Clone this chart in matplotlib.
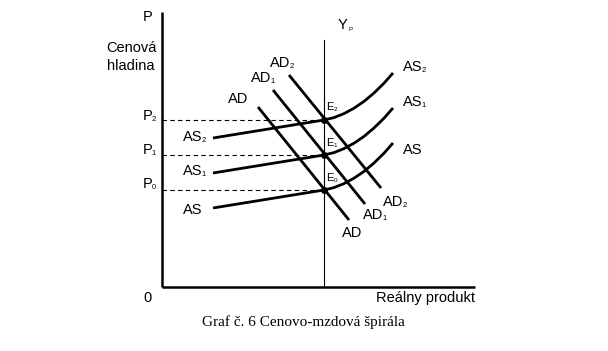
import matplotlib
matplotlib.use("Agg")
import matplotlib.pyplot as plt

plt.rcParams['font.family'] = ['Liberation Sans', 'DejaVu Sans']

# --- data (chart units: x = real product, y = price level) ---
yp = 162                        # potential output
price_levels = [103, 137, 171]  # P0, P1, P2 label heights
price_subs = ['0', '1', '2']

as_x = [51, 162, 172, 182, 192, 202, 212, 222, 231]
as0_y = [79, 97, 99.4, 103.4, 108.8, 115.6, 124, 133.8, 144]
as1_y = [114, 132, 134.4, 138.4, 143.8, 150.6, 159, 168.8, 179]
as2_y = [149, 167, 169.4, 173.4, 178.8, 185.6, 194, 203.8, 214]

ad0_x = [96, 187];  ad0_y = [180, 67]
ad1_x = [111, 203]; ad1_y = [197, 83]
ad2_x = [127, 219]; ad2_y = [212, 99]

fig = plt.figure(figsize=(6.08, 3.51), dpi=100)
ax = fig.add_axes([0, 0, 1, 1])
ax.set_xlim(-162, 446)
ax.set_ylim(-64, 287)
ax.axis('off')

k = 'black'
# axes
ax.plot([0, 0], [0, 275], color=k, lw=1.8, solid_capstyle='butt')
ax.plot([0, 313], [0, 0], color=k, lw=1.8, solid_capstyle='butt')
# potential output line
ax.plot([yp, yp], [0, 247], color=k, lw=0.8)
# dashed price lines (at the equilibrium levels E0..E2)
eq_y = [as0_y[1], as1_y[1], as2_y[1]]
for p in eq_y:
    ax.plot([0, yp], [p, p], color=k, lw=0.8, dashes=(4, 3))

# AS curves
for ys in (as0_y, as1_y, as2_y):
    ax.plot(as_x, ys, color=k, lw=2.0, solid_capstyle='butt')
# AD lines
for xs, ys in ((ad0_x, ad0_y), (ad1_x, ad1_y), (ad2_x, ad2_y)):
    ax.plot(xs, ys, color=k, lw=2.0, solid_capstyle='butt')
# equilibria
ax.scatter([yp] * 3, eq_y, s=16, color=k, zorder=5)

fs = 10.5
def t(x, y, s, sub=None, ha='left', size=fs, subsize=5.5, gap=-0.9, **kw):
    txt = ax.text(x, y, s, ha=ha, va='center', fontsize=size, color=k, **kw)
    if sub:
        ax.annotate(sub, xy=(1, 0), xycoords=txt, xytext=(gap, 0.2),
                    textcoords='offset points', fontsize=subsize,
                    ha='left', va='bottom', color=k)
    return txt

t(-19, 270, 'P')
t(-31, 239, 'Cenová', ha='center')
t(-31, 221, 'hladina', ha='center')
for p, s in zip(price_levels, price_subs):
    t(-19, p, 'P', s)
t(-19, -11, '0')
t(313, -11, 'Reálny produkt', ha='right')
t(176, 262, 'Y', 'P', subsize=4.5, gap=0.3)

t(21, 150, 'AS', '2')
t(21, 116, 'AS', '1')
t(21, 77, 'AS')
t(241, 220, 'AS', '2')
t(241, 185, 'AS', '1')
t(241, 137, 'AS')

t(66, 188, 'AD')
t(89, 209, 'AD', '1')
t(108, 224, 'AD', '2')
t(180, 54, 'AD')
t(201, 72, 'AD', '1')
t(221, 85, 'AD', '2')

for ey, s in zip([109, 144, 180], ['0', '1', '2']):
    t(164, ey, 'E', s, size=8, subsize=4.5, gap=0.2)

ax.text(141, -35, 'Graf č. 6 Cenovo-mzdová špirála', ha='center', va='center',
        fontsize=11, family=['Liberation Serif', 'DejaVu Serif'], color=k)

fig.savefig('out.png', dpi=100, facecolor='white')
